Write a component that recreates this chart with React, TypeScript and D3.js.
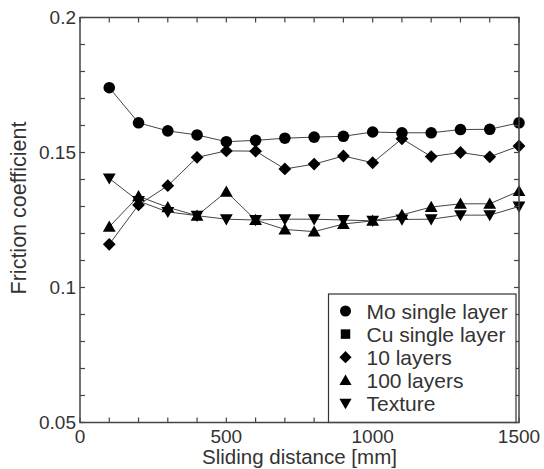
import React from "react";
import * as d3 from "d3";

// Sliding distance [mm] at which the friction coefficient was sampled
const distances = [100, 200, 300, 400, 500, 600, 700, 800, 900, 1000, 1100, 1200, 1300, 1400, 1500];

const moSingle = [0.174, 0.161, 0.158, 0.1565, 0.154, 0.1545, 0.1553, 0.1557, 0.156, 0.1576, 0.1573, 0.1573, 0.1585, 0.1586, 0.161];
const tenLayers = [0.116, 0.1306, 0.1377, 0.1482, 0.1506, 0.1505, 0.1439, 0.1457, 0.1487, 0.1462, 0.1551, 0.1485, 0.15, 0.1484, 0.1524];
const hundredLayers = [0.1225, 0.1338, 0.1297, 0.1266, 0.1355, 0.125, 0.1215, 0.1207, 0.1235, 0.1247, 0.1269, 0.1298, 0.131, 0.131, 0.1357];
const texture = [0.1404, 0.132, 0.128, 0.1266, 0.1253, 0.125, 0.1253, 0.1253, 0.125, 0.1247, 0.1252, 0.1253, 0.1268, 0.1268, 0.13];

const xTickLabels = [0, 500, 1000, 1500];
const yTickLabels = [0.05, 0.1, 0.15, 0.2];

type Shape = "circle" | "square" | "diamond" | "up" | "down";

const legendItems: { label: string; shape: Shape }[] = [
  { label: "Mo single layer", shape: "circle" },
  { label: "Cu single layer", shape: "square" },
  { label: "10 layers", shape: "diamond" },
  { label: "100 layers", shape: "up" },
  { label: "Texture", shape: "down" },
];

const series: { values: number[]; shape: Shape }[] = [
  { values: texture, shape: "down" },
  { values: hundredLayers, shape: "up" },
  { values: tenLayers, shape: "diamond" },
  { values: moSingle, shape: "circle" },
];

const W = 544;
const H = 469;
const left = 80;
const right = 519;
const top = 17.5;
const bottom = 422.5;
const FONT = "'Liberation Sans', Arial, sans-serif";
const TEXT = "#333";

function Marker({ shape, x, y, s = 1 }: { shape: Shape; x: number; y: number; s?: number }) {
  switch (shape) {
    case "circle":
      return <circle cx={x} cy={y} r={5.8 * s} fill="#000" />;
    case "square":
      return <rect x={x - 5 * s} y={y - 5 * s} width={10 * s} height={10 * s} fill="#000" />;
    case "diamond": {
      const h = 6.4 * s;
      return <path d={`M${x},${y - h}L${x + h},${y}L${x},${y + h}L${x - h},${y}Z`} fill="#000" />;
    }
    case "up": {
      const w = 6.4 * s;
      return <path d={`M${x},${y - 6.2 * s}L${x + w},${y + 5 * s}L${x - w},${y + 5 * s}Z`} fill="#000" />;
    }
    case "down": {
      const w = 6.4 * s;
      return <path d={`M${x},${y + 6.2 * s}L${x + w},${y - 5 * s}L${x - w},${y - 5 * s}Z`} fill="#000" />;
    }
  }
}

export default function App() {
  const x = d3.scaleLinear().domain([0, 1500]).range([left, right]);
  const y = d3.scaleLinear().domain([0.05, 0.2]).range([bottom, top]);

  const xMinor = d3.range(0, 1501, 100);
  const yMinor = d3.range(0.05, 0.2001, 0.01);
  const tick = 5;

  const line = d3
    .line<number>()
    .x((_, i) => x(distances[i]))
    .y((v) => y(v));

  const legX = 328.5;
  const legY = 294;
  const rowH = 23.1;

  return (
    <svg width={W} height={H} style={{ position: "absolute", left: 0, top: 0, background: "#fff" }}>
      <rect width={W} height={H} fill="#fff" />

      {/* connecting lines */}
      {series.map((s, i) => (
        <path key={`l${i}`} d={line(s.values) || ""} fill="none" stroke="#444" strokeWidth={1} />
      ))}

      {/* markers */}
      {series.map((s, i) =>
        s.values.map((v, j) => <Marker key={`m${i}-${j}`} shape={s.shape} x={x(distances[j])} y={y(v)} />)
      )}

      {/* frame ticks */}
      <g stroke="#444" strokeWidth={1.2}>
        {xMinor.map((t) => (
          <g key={`xt${t}`}>
            <line x1={x(t)} x2={x(t)} y1={bottom} y2={bottom - tick} />
            <line x1={x(t)} x2={x(t)} y1={top} y2={top + tick} />
          </g>
        ))}
        {yMinor.map((t) => (
          <g key={`yt${t.toFixed(2)}`}>
            <line x1={left} x2={left + tick} y1={y(t)} y2={y(t)} />
            <line x1={right} x2={right - tick} y1={y(t)} y2={y(t)} />
          </g>
        ))}
      </g>

      {/* legend */}
      <rect
        x={legX}
        y={legY}
        width={right - 3 - legX}
        height={bottom - legY}
        fill="#fff"
        stroke="#333"
        strokeWidth={1.2}
      />
      {legendItems.map((it, i) => {
        const cy = legY + 17 + i * rowH;
        return (
          <g key={it.label}>
            <Marker shape={it.shape} x={legX + 17} y={cy} s={0.95} />
            <text x={legX + 38} y={cy + 7.5} fontFamily={FONT} fontSize={21} fill={TEXT}>
              {it.label}
            </text>
          </g>
        );
      })}

      {/* plot frame */}
      <rect x={left} y={top} width={right - left} height={bottom - top} fill="none" stroke="#444" strokeWidth={1.5} />

      {/* tick labels */}
      {xTickLabels.map((t) => (
        <text key={`xl${t}`} x={x(t)} y={443} textAnchor="middle" fontFamily={FONT} fontSize={19} fill={TEXT}>
          {t}
        </text>
      ))}
      {yTickLabels.map((t) => (
        <text
          key={`yl${t}`}
          x={left - 4}
          y={y(t) + 6.5}
          textAnchor="end"
          fontFamily={FONT}
          fontSize={19}
          fill={TEXT}
        >
          {String(t)}
        </text>
      ))}

      {/* axis titles */}
      <text x={(left + right) / 2} y={464} textAnchor="middle" fontFamily={FONT} fontSize={20.5} fill={TEXT}>
        Sliding distance [mm]
      </text>
      <text
        transform={`translate(26, ${(top + bottom) / 2 - 12}) rotate(-90)`}
        textAnchor="middle"
        fontFamily={FONT}
        fontSize={21.5}
        fill={TEXT}
      >
        Friction coefficient
      </text>
    </svg>
  );
}
